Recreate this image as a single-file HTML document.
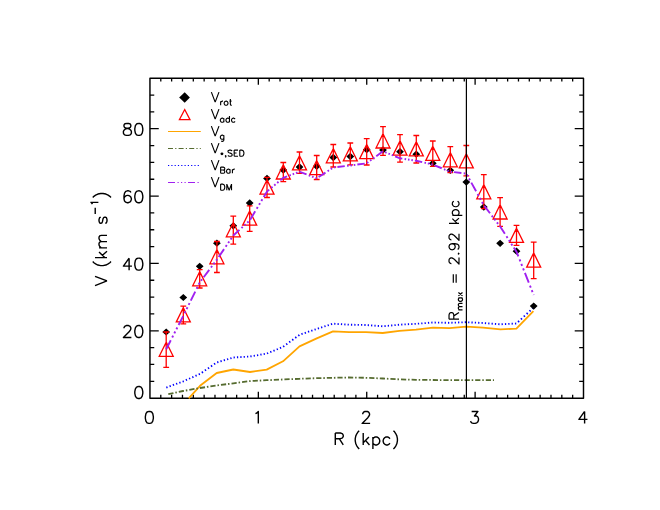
<!DOCTYPE html>
<html><head><meta charset="utf-8"><title>Rotation curve</title>
<style>html,body{margin:0;padding:0;background:#fff}svg{display:block}text{font-family:"Liberation Sans",sans-serif;fill:#000;fill-opacity:0}</style></head>
<body>
<svg width="660" height="510" viewBox="0 0 660 510">
<rect width="660" height="510" fill="#fff"/>
<path d="M160.79,398.15v-3.3M160.79,78.2v3.3M171.63,398.15v-3.3M171.63,78.2v3.3M182.47,398.15v-3.3M182.47,78.2v3.3M193.31,398.15v-3.3M193.31,78.2v3.3M204.14,398.15v-3.3M204.14,78.2v3.3M214.98,398.15v-3.3M214.98,78.2v3.3M225.82,398.15v-3.3M225.82,78.2v3.3M236.66,398.15v-3.3M236.66,78.2v3.3M247.50,398.15v-3.3M247.50,78.2v3.3M258.34,398.15v-6.5M258.34,78.2v6.5M269.18,398.15v-3.3M269.18,78.2v3.3M280.01,398.15v-3.3M280.01,78.2v3.3M290.85,398.15v-3.3M290.85,78.2v3.3M301.69,398.15v-3.3M301.69,78.2v3.3M312.53,398.15v-3.3M312.53,78.2v3.3M323.37,398.15v-3.3M323.37,78.2v3.3M334.21,398.15v-3.3M334.21,78.2v3.3M345.05,398.15v-3.3M345.05,78.2v3.3M355.89,398.15v-3.3M355.89,78.2v3.3M366.73,398.15v-6.5M366.73,78.2v6.5M377.56,398.15v-3.3M377.56,78.2v3.3M388.40,398.15v-3.3M388.40,78.2v3.3M399.24,398.15v-3.3M399.24,78.2v3.3M410.08,398.15v-3.3M410.08,78.2v3.3M420.92,398.15v-3.3M420.92,78.2v3.3M431.76,398.15v-3.3M431.76,78.2v3.3M442.60,398.15v-3.3M442.60,78.2v3.3M453.44,398.15v-3.3M453.44,78.2v3.3M464.27,398.15v-3.3M464.27,78.2v3.3M475.11,398.15v-6.5M475.11,78.2v6.5M485.95,398.15v-3.3M485.95,78.2v3.3M496.79,398.15v-3.3M496.79,78.2v3.3M507.63,398.15v-3.3M507.63,78.2v3.3M518.47,398.15v-3.3M518.47,78.2v3.3M529.31,398.15v-3.3M529.31,78.2v3.3M540.14,398.15v-3.3M540.14,78.2v3.3M550.98,398.15v-3.3M550.98,78.2v3.3M561.82,398.15v-3.3M561.82,78.2v3.3M572.66,398.15v-3.3M572.66,78.2v3.3M149.95,381.31h4.3M583.5,381.31h-4.3M149.95,364.47h4.3M583.5,364.47h-4.3M149.95,347.63h4.3M583.5,347.63h-4.3M149.95,330.79h8.8M583.5,330.79h-8.8M149.95,313.95h4.3M583.5,313.95h-4.3M149.95,297.11h4.3M583.5,297.11h-4.3M149.95,280.27h4.3M583.5,280.27h-4.3M149.95,263.43h8.8M583.5,263.43h-8.8M149.95,246.59h4.3M583.5,246.59h-4.3M149.95,229.76h4.3M583.5,229.76h-4.3M149.95,212.92h4.3M583.5,212.92h-4.3M149.95,196.08h8.8M583.5,196.08h-8.8M149.95,179.24h4.3M583.5,179.24h-4.3M149.95,162.40h4.3M583.5,162.40h-4.3M149.95,145.56h4.3M583.5,145.56h-4.3M149.95,128.72h8.8M583.5,128.72h-8.8M149.95,111.88h4.3M583.5,111.88h-4.3M149.95,95.04h4.3M583.5,95.04h-4.3" stroke="#000" stroke-width="1.3" fill="none"/>
<rect x="149.95" y="78.2" width="433.55" height="319.95" fill="none" stroke="#000" stroke-width="1.45" stroke-linejoin="round"/>
<polyline points="188.7,398.3 200.0,385.8 216.7,373.0 233.3,369.5 250.0,372.0 266.7,369.6 283.0,361.3 299.5,346.4 316.2,338.6 333.0,331.4 349.2,332.2 366.0,332.2 382.7,333.0 399.4,330.9 416.0,329.6 433.0,327.6 449.5,328.1 466.2,326.6 483.0,327.6 500.5,329.4 516.4,328.6 533.4,311.1" fill="none" stroke="#FFA500" stroke-width="1.8" stroke-linejoin="round"/>
<path d="M168.30,394.20L173.45,393.08M175.33,392.67L176.82,392.35M178.80,391.92L183.00,391.00L183.95,390.83M185.83,390.50L187.33,390.24M189.31,389.89L194.48,388.97M196.37,388.64L197.86,388.38M199.84,388.03L200.00,388.00L205.02,387.25M206.91,386.97L208.40,386.74M210.39,386.44L215.57,385.67M217.46,385.40L218.95,385.20M220.95,384.94L226.13,384.25M228.02,384.00L229.52,383.80M231.51,383.54L233.30,383.30L236.69,382.85M238.58,382.60L240.08,382.41M242.07,382.14L247.25,381.46M249.14,381.21L250.00,381.10L250.64,381.07M252.64,380.96L257.84,380.68M259.73,380.58L261.23,380.49M263.23,380.39L266.70,380.20L268.43,380.13M270.33,380.04L271.83,379.98M273.83,379.89L279.03,379.67M280.92,379.59L282.42,379.52M284.42,379.44L289.62,379.22M291.52,379.14L293.02,379.07M295.02,378.99L299.50,378.80L300.22,378.77M302.12,378.70L303.62,378.65M305.62,378.58L310.81,378.39M312.71,378.32L314.21,378.26M316.21,378.19L321.41,378.07M323.31,378.03L324.81,377.99M326.81,377.95L332.01,377.82M333.91,377.78L335.41,377.75M337.41,377.72L342.61,377.62M344.51,377.58L346.01,377.56M348.01,377.52L349.00,377.50L353.21,377.57M355.11,377.61L356.61,377.63M358.61,377.67L363.81,377.76M365.71,377.79L366.00,377.80L367.21,377.85M369.21,377.93L374.41,378.15M376.31,378.22L377.80,378.29M379.80,378.37L383.00,378.50L385.00,378.61M386.90,378.71L388.40,378.79M390.40,378.89L395.60,379.17M397.49,379.27L398.99,379.35M400.99,379.42L406.19,379.55M408.09,379.60L409.59,379.64M411.59,379.69L416.00,379.80L416.79,379.81M418.69,379.83L420.19,379.85M422.19,379.87L427.39,379.93M429.29,379.96L430.79,379.97M432.79,380.00L433.00,380.00L437.99,380.03M439.89,380.04L441.39,380.05M443.39,380.06L448.59,380.09M450.49,380.10L451.99,380.11M453.99,380.12L459.19,380.16M461.09,380.17L462.59,380.18M464.59,380.19L466.00,380.20L469.79,380.20M471.69,380.20L473.19,380.20M475.19,380.20L480.39,380.20M482.29,380.20L483.00,380.20L483.79,380.20M485.79,380.20L490.99,380.20M492.89,380.20L494.00,380.20" fill="none" stroke="#556B2F" stroke-width="1.8"/>
<path d="M166.30,387.60L167.52,387.15M169.56,386.39L170.77,385.94M172.81,385.19L174.03,384.74M176.07,383.98L177.29,383.53M179.33,382.77L180.54,382.32M182.58,381.57L183.30,381.30L183.79,381.08M185.81,380.19L187.01,379.65M189.03,378.76L190.23,378.23M192.25,377.33L193.45,376.80M195.47,375.91L196.67,375.38M198.69,374.48L199.89,373.95M201.81,372.66L202.96,371.88M204.88,370.57L206.02,369.79M207.94,368.48L209.08,367.70M211.00,366.39L212.14,365.61M214.06,364.30L215.21,363.52M217.16,362.36L218.38,361.99M220.44,361.37L221.67,361.00M223.73,360.38L224.96,360.01M227.02,359.39L228.25,359.02M230.31,358.40L231.53,358.03M233.60,357.48L234.85,357.41M236.95,357.28L238.20,357.21M240.29,357.08L241.54,357.01M243.64,356.88L244.89,356.81M246.99,356.68L248.24,356.61M250.33,356.44L251.58,356.23M253.66,355.86L254.91,355.65M256.99,355.29L258.23,355.07M260.32,354.71L261.56,354.49M263.65,354.13L264.89,353.91M266.97,353.49L268.18,352.99M270.21,352.16L271.42,351.66M273.44,350.83L274.65,350.33M276.68,349.50L277.89,349.00M279.92,348.17L281.12,347.67M283.14,346.79L284.27,345.97M286.17,344.58L287.30,343.75M289.19,342.36L290.32,341.53M292.22,340.14L293.34,339.31M295.24,337.92L296.37,337.10M298.26,335.71L299.39,334.88M301.43,334.14L302.65,333.72M304.70,333.02L305.92,332.61M307.97,331.91L309.19,331.49M311.24,330.79L312.47,330.37M314.52,329.67L315.74,329.26M317.79,328.59L319.01,328.20M321.07,327.53L322.29,327.14M324.35,326.48L325.57,326.09M327.63,325.43L328.85,325.03M330.91,324.37L332.13,323.98M334.21,323.77L335.46,323.85M337.56,323.98L338.81,324.06M340.91,324.19L342.15,324.27M344.25,324.39L345.50,324.47M347.60,324.60L348.85,324.68M350.95,324.73L352.20,324.75M354.30,324.79L355.55,324.81M357.65,324.85L358.90,324.87M361.00,324.91L362.25,324.93M364.35,324.97L365.60,324.99M367.70,325.13L368.94,325.23M371.04,325.39L372.29,325.49M374.39,325.65L375.64,325.75M377.73,325.91L378.98,326.01M381.08,326.17L382.33,326.27M384.42,326.13L385.67,326.02M387.77,325.81L389.01,325.70M391.11,325.49L392.36,325.37M394.45,325.17L395.70,325.05M397.80,324.85L399.04,324.73M401.14,324.61L402.39,324.54M404.49,324.42L405.74,324.36M407.84,324.24L409.09,324.17M411.19,324.06L412.44,323.99M414.53,323.88L415.78,323.81M417.88,323.66L419.13,323.56M421.23,323.40L422.48,323.30M424.57,323.14L425.82,323.05M427.92,322.89L429.17,322.79M431.26,322.63L432.51,322.54M434.61,322.53L435.86,322.55M437.96,322.59L439.21,322.61M441.31,322.65L442.56,322.67M444.66,322.71L445.91,322.73M448.01,322.77L449.26,322.80M451.36,322.73L452.61,322.69M454.71,322.61L455.96,322.57M458.06,322.49L459.31,322.44M461.41,322.37L462.66,322.32M464.76,322.25L466.00,322.20L466.01,322.20M468.11,322.30L469.36,322.36M471.45,322.46L472.70,322.52M474.80,322.61L476.05,322.67M478.15,322.77L479.40,322.83M481.50,322.93L482.75,322.99M484.85,323.14L486.10,323.23M488.19,323.39L489.44,323.48M491.54,323.63L492.79,323.73M494.88,323.88L496.13,323.98M498.23,324.13L499.48,324.22M501.58,324.25L502.83,324.18M504.93,324.08L506.18,324.01M508.27,323.91L509.52,323.85M511.62,323.74L512.87,323.68M514.97,323.57L516.22,323.51M518.04,321.97L519.11,320.98M520.91,319.31L521.98,318.31M523.78,316.64L524.85,315.64M526.64,313.97L527.71,312.98M529.51,311.30L530.58,310.31M532.38,308.64L533.45,307.64" fill="none" stroke="#0000FF" stroke-width="1.85"/>
<path d="M162.3,332.0L166.2,328.4L170.1,332.0L166.2,335.6ZM179.4,297.5L183.3,293.9L187.2,297.5L183.3,301.1ZM195.8,266.3L199.7,262.7L203.6,266.3L199.7,269.9ZM213.0,243.2L216.9,239.5L220.8,243.2L216.9,246.8ZM229.4,225.8L233.3,222.2L237.2,225.8L233.3,229.5ZM245.8,203.0L249.7,199.3L253.6,203.0L249.7,206.7ZM263.1,178.4L267.0,174.8L270.9,178.4L267.0,182.1ZM279.4,170.0L283.3,166.3L287.2,170.0L283.3,173.7ZM295.6,167.0L299.5,163.3L303.4,167.0L299.5,170.7ZM312.8,166.3L316.7,162.7L320.6,166.3L316.7,170.0ZM329.4,157.5L333.3,153.8L337.2,157.5L333.3,161.2ZM346.4,156.5L350.3,152.8L354.2,156.5L350.3,160.2ZM362.8,149.7L366.7,146.0L370.6,149.7L366.7,153.3ZM379.1,150.0L383.0,146.3L386.9,150.0L383.0,153.7ZM396.1,151.7L400.0,148.0L403.9,151.7L400.0,155.3ZM412.4,154.2L416.3,150.5L420.2,154.2L416.3,157.8ZM428.9,163.3L432.8,159.7L436.7,163.3L432.8,167.0ZM446.4,170.3L450.3,166.7L454.2,170.3L450.3,174.0ZM462.4,182.1L466.3,178.4L470.2,182.1L466.3,185.8ZM479.9,207.0L483.8,203.3L487.7,207.0L483.8,210.7ZM496.2,243.3L500.1,239.7L504.0,243.3L500.1,247.0ZM512.6,251.2L516.5,247.5L520.4,251.2L516.5,254.8ZM529.8,306.1L533.7,302.5L537.6,306.1L533.7,309.8Z" fill="#000"/>
<path d="M166.2,342.1L173.2,356.3L159.2,356.3ZM166.2,332.0V367.3M163.3,332.0h5.8M163.3,367.3h5.8M183.3,307.7L190.3,321.9L176.3,321.9ZM183.3,306.2V323.8M180.4,306.2h5.8M180.4,323.8h5.8M199.7,271.6L206.7,285.8L192.7,285.8ZM199.7,269.7V288.0M196.8,269.7h5.8M196.8,288.0h5.8M216.9,249.6L223.9,263.8L209.9,263.8ZM216.9,241.5V272.5M214.0,241.5h5.8M214.0,272.5h5.8M233.3,222.6L240.3,236.8L226.3,236.8ZM233.3,216.2V244.2M230.4,216.2h5.8M230.4,244.2h5.8M249.7,211.0L256.7,225.2L242.7,225.2ZM249.7,205.8V231.3M246.8,205.8h5.8M246.8,231.3h5.8M267.0,179.9L274.0,194.1L260.0,194.1ZM267.0,177.3V197.5M264.1,177.3h5.8M264.1,197.5h5.8M283.3,164.8L290.3,179.0L276.3,179.0ZM283.3,162.5V181.7M280.4,162.5h5.8M280.4,181.7h5.8M299.5,155.7L306.5,169.9L292.5,169.9ZM299.5,152.0V173.3M296.6,152.0h5.8M296.6,173.3h5.8M316.7,160.5L323.7,174.7L309.7,174.7ZM316.7,155.5V179.5M313.8,155.5h5.8M313.8,179.5h5.8M333.3,148.6L340.3,162.8L326.3,162.8ZM333.3,144.5V167.0M330.4,144.5h5.8M330.4,167.0h5.8M350.3,146.7L357.3,160.9L343.3,160.9ZM350.3,143.0V164.8M347.4,143.0h5.8M347.4,164.8h5.8M366.7,144.4L373.7,158.6L359.7,158.6ZM366.7,138.7V165.0M363.8,138.7h5.8M363.8,165.0h5.8M383.0,133.8L390.0,148.0L376.0,148.0ZM383.0,126.7V155.3M380.1,126.7h5.8M380.1,155.3h5.8M400.0,140.9L407.0,155.1L393.0,155.1ZM400.0,134.7V162.2M397.1,134.7h5.8M397.1,162.2h5.8M416.3,141.7L423.3,155.9L409.3,155.9ZM416.3,135.5V163.0M413.4,135.5h5.8M413.4,163.0h5.8M432.8,146.2L439.8,160.4L425.8,160.4ZM432.8,141.0V166.3M429.9,141.0h5.8M429.9,166.3h5.8M450.3,152.6L457.3,166.8L443.3,166.8ZM450.3,146.7V172.6M447.4,146.7h5.8M447.4,172.6h5.8M466.3,153.7L473.3,167.9L459.3,167.9ZM466.3,145.5V175.8M463.4,145.5h5.8M463.4,175.8h5.8M483.8,184.6L490.8,198.8L476.8,198.8ZM483.8,174.6V208.7M480.9,174.6h5.8M480.9,208.7h5.8M500.1,204.8L507.1,219.0L493.1,219.0ZM500.1,197.7V226.3M497.2,197.7h5.8M497.2,226.3h5.8M516.5,228.2L523.5,242.4L509.5,242.4ZM516.5,225.3V245.3M513.6,225.3h5.8M513.6,245.3h5.8M533.7,252.9L540.7,267.1L526.7,267.1ZM533.7,242.2V278.7M530.8,242.2h5.8M530.8,278.7h5.8" fill="none" stroke="#FF0000" stroke-width="1.3" stroke-linejoin="miter"/>
<path d="M166.20,349.20L170.78,340.26M172.20,337.48L173.13,335.66M174.31,333.37L175.23,331.55M176.41,329.26L177.34,327.45M178.58,325.03L183.15,316.08M184.55,313.27L185.45,311.43M186.60,309.10L187.51,307.26M188.65,304.93L189.56,303.09M190.77,300.64L195.24,291.56M196.62,288.74L197.53,286.90M198.68,284.57L199.58,282.74M200.99,280.78L202.13,279.27M203.64,277.26L209.23,269.81M210.97,267.49L212.11,265.98M213.54,264.07L214.68,262.56M216.11,260.65L217.20,259.20L217.25,259.13M218.69,257.00L224.04,249.13M225.70,246.69L226.78,245.09M228.16,243.07L229.24,241.48M230.61,239.45L231.70,237.86M233.14,235.73L233.30,235.50L239.47,229.85M241.45,228.05L242.74,226.87M244.37,225.37L245.66,224.19M247.30,222.70L248.58,221.52M250.17,219.70L255.18,211.32M256.73,208.71L257.75,207.01M259.03,204.86L260.05,203.16M261.33,201.00L262.35,199.30M263.70,197.03L267.00,191.50L269.21,189.64M271.23,187.95L272.54,186.84M274.21,185.44L275.53,184.33M277.19,182.93L278.51,181.83M280.27,180.35L283.30,177.80L287.13,176.36M289.36,175.52L290.82,174.97M292.67,174.27L294.12,173.72M295.97,173.03L297.43,172.48M299.37,171.75L299.50,171.70L306.55,174.40M308.78,175.26L310.24,175.82M312.08,176.53L313.53,177.09M315.38,177.79L316.70,178.30L316.83,178.22M318.67,177.02L325.48,172.58M327.60,171.21L328.98,170.31M330.73,169.17L332.12,168.27M333.91,167.43L335.41,167.25M337.40,167.02L344.78,166.15M347.07,165.88L348.57,165.70M350.46,165.48L351.96,165.28M353.85,165.02L355.35,164.82M357.34,164.56L364.71,163.57M366.97,163.10L368.33,162.10M370.04,160.84L371.39,159.85M373.11,158.58L374.46,157.59M376.26,156.26L382.94,151.34M385.16,152.19L386.61,152.78M388.44,153.54L389.89,154.14M391.73,154.89L393.17,155.49M395.11,156.28L400.00,158.30L402.32,158.66M404.61,159.01L406.10,159.24M407.99,159.53L409.49,159.76M411.38,160.05L412.87,160.27M414.86,160.58L416.30,160.80L422.19,162.12M424.47,162.63L425.95,162.96M427.83,163.39L429.32,163.72M431.20,164.14L432.68,164.47M434.61,165.26L441.75,168.25M443.97,169.18L445.42,169.78M447.25,170.55L448.70,171.16M450.55,171.76L452.05,171.94M454.04,172.17L461.42,173.03M463.71,173.30L465.21,173.47M466.82,174.55L467.80,176.30M469.03,178.53L470.00,180.28M471.30,182.63L476.10,191.29M477.59,193.98L478.56,195.74M479.79,197.97L480.77,199.72M482.00,201.95L482.97,203.70M484.35,205.92L490.00,213.27M491.75,215.56L492.90,217.05M494.35,218.94L495.49,220.43M496.94,222.32L498.09,223.81M499.62,225.80L500.00,226.30L504.86,233.83M506.48,236.34L507.54,237.97M508.88,240.05L509.94,241.68M511.28,243.76L512.33,245.39M513.74,247.58L516.60,252.00L518.35,256.39M519.55,259.41L520.33,261.38M521.32,263.87L522.10,265.84M523.10,268.33L523.88,270.30M524.92,272.93L528.78,282.64M529.98,285.66L530.77,287.63M531.76,290.12L532.54,292.09M533.53,294.58L533.70,295.00" fill="none" stroke="#A020F0" stroke-width="1.9"/>
<line x1="466.4" y1="78.2" x2="466.4" y2="398.15" stroke="#000" stroke-width="1.2"/>
<g fill="none" stroke="#000" stroke-width="1.4" stroke-linejoin="round" stroke-linecap="butt"><path transform="translate(144.50,337.49) translate(-22.80,0)" d="M2.28,-9.12L2.28,-9.69L2.85,-10.83L3.42,-11.40L4.56,-11.97L6.84,-11.97L7.98,-11.40L8.55,-10.83L9.12,-9.69L9.12,-8.55L8.55,-7.41L7.41,-5.70L1.71,0.00L9.69,0.00M16.53,-11.97L14.82,-11.40L13.68,-9.69L13.11,-6.84L13.11,-5.13L13.68,-2.28L14.82,-0.57L16.53,0.00L17.67,0.00L19.38,-0.57L20.52,-2.28L21.09,-5.13L21.09,-6.84L20.52,-9.69L19.38,-11.40L17.67,-11.97L16.53,-11.97"/><path transform="translate(144.50,270.13) translate(-22.80,0)" d="M7.41,-11.97L1.71,-3.99L10.26,-3.99M7.41,-11.97L7.41,0.00M16.53,-11.97L14.82,-11.40L13.68,-9.69L13.11,-6.84L13.11,-5.13L13.68,-2.28L14.82,-0.57L16.53,0.00L17.67,0.00L19.38,-0.57L20.52,-2.28L21.09,-5.13L21.09,-6.84L20.52,-9.69L19.38,-11.40L17.67,-11.97L16.53,-11.97"/><path transform="translate(144.50,202.78) translate(-22.80,0)" d="M9.12,-10.26L8.55,-11.40L6.84,-11.97L5.70,-11.97L3.99,-11.40L2.85,-9.69L2.28,-6.84L2.28,-3.99L2.85,-1.71L3.99,-0.57L5.70,0.00L6.27,0.00L7.98,-0.57L9.12,-1.71L9.69,-3.42L9.69,-3.99L9.12,-5.70L7.98,-6.84L6.27,-7.41L5.70,-7.41L3.99,-6.84L2.85,-5.70L2.28,-3.99M16.53,-11.97L14.82,-11.40L13.68,-9.69L13.11,-6.84L13.11,-5.13L13.68,-2.28L14.82,-0.57L16.53,0.00L17.67,0.00L19.38,-0.57L20.52,-2.28L21.09,-5.13L21.09,-6.84L20.52,-9.69L19.38,-11.40L17.67,-11.97L16.53,-11.97"/><path transform="translate(144.50,135.42) translate(-22.80,0)" d="M4.56,-11.97L2.85,-11.40L2.28,-10.26L2.28,-9.12L2.85,-7.98L3.99,-7.41L6.27,-6.84L7.98,-6.27L9.12,-5.13L9.69,-3.99L9.69,-2.28L9.12,-1.14L8.55,-0.57L6.84,0.00L4.56,0.00L2.85,-0.57L2.28,-1.14L1.71,-2.28L1.71,-3.99L2.28,-5.13L3.42,-6.27L5.13,-6.84L7.41,-7.41L8.55,-7.98L9.12,-9.12L9.12,-10.26L8.55,-11.40L6.84,-11.97L4.56,-11.97M16.53,-11.97L14.82,-11.40L13.68,-9.69L13.11,-6.84L13.11,-5.13L13.68,-2.28L14.82,-0.57L16.53,0.00L17.67,0.00L19.38,-0.57L20.52,-2.28L21.09,-5.13L21.09,-6.84L20.52,-9.69L19.38,-11.40L17.67,-11.97L16.53,-11.97"/><path transform="translate(144.50,398.50) translate(-11.40,0)" d="M5.13,-11.97L3.42,-11.40L2.28,-9.69L1.71,-6.84L1.71,-5.13L2.28,-2.28L3.42,-0.57L5.13,0.00L6.27,0.00L7.98,-0.57L9.12,-2.28L9.69,-5.13L9.69,-6.84L9.12,-9.69L7.98,-11.40L6.27,-11.97L5.13,-11.97"/><path transform="translate(149.35,423.40) translate(-5.70,0)" d="M5.13,-11.97L3.42,-11.40L2.28,-9.69L1.71,-6.84L1.71,-5.13L2.28,-2.28L3.42,-0.57L5.13,0.00L6.27,0.00L7.98,-0.57L9.12,-2.28L9.69,-5.13L9.69,-6.84L9.12,-9.69L7.98,-11.40L6.27,-11.97L5.13,-11.97"/><path transform="translate(257.74,423.40) translate(-5.70,0)" d="M3.42,-9.69L4.56,-10.26L6.27,-11.97L6.27,0.00"/><path transform="translate(366.12,423.40) translate(-5.70,0)" d="M2.28,-9.12L2.28,-9.69L2.85,-10.83L3.42,-11.40L4.56,-11.97L6.84,-11.97L7.98,-11.40L8.55,-10.83L9.12,-9.69L9.12,-8.55L8.55,-7.41L7.41,-5.70L1.71,0.00L9.69,0.00"/><path transform="translate(474.51,423.40) translate(-5.70,0)" d="M2.85,-11.97L9.12,-11.97L5.70,-7.41L7.41,-7.41L8.55,-6.84L9.12,-6.27L9.69,-4.56L9.69,-3.42L9.12,-1.71L7.98,-0.57L6.27,0.00L4.56,0.00L2.85,-0.57L2.28,-1.14L1.71,-2.28"/><path transform="translate(582.90,423.40) translate(-5.70,0)" d="M7.41,-11.97L1.71,-3.99L10.26,-3.99M7.41,-11.97L7.41,0.00"/><path transform="translate(333.00,444.95)" d="M2.28,-11.97L2.28,0.00M2.28,-11.97L7.41,-11.97L9.12,-11.40L9.69,-10.83L10.26,-9.69L10.26,-8.55L9.69,-7.41L9.12,-6.84L7.41,-6.27L2.28,-6.27M6.27,-6.27L10.26,0.00M26.22,-14.25L25.08,-13.11L23.94,-11.40L22.80,-9.12L22.23,-6.27L22.23,-3.99L22.80,-1.14L23.94,1.14L25.08,2.85L26.22,3.99M30.21,-11.97L30.21,0.00M35.91,-7.98L30.21,-2.28M32.49,-4.56L36.48,0.00M39.90,-7.98L39.90,3.99M39.90,-6.27L41.04,-7.41L42.18,-7.98L43.89,-7.98L45.03,-7.41L46.17,-6.27L46.74,-4.56L46.74,-3.42L46.17,-1.71L45.03,-0.57L43.89,0.00L42.18,0.00L41.04,-0.57L39.90,-1.71M57.00,-6.27L55.86,-7.41L54.72,-7.98L53.01,-7.98L51.87,-7.41L50.73,-6.27L50.16,-4.56L50.16,-3.42L50.73,-1.71L51.87,-0.57L53.01,0.00L54.72,0.00L55.86,-0.57L57.00,-1.71M60.42,-14.25L61.56,-13.11L62.70,-11.40L63.84,-9.12L64.41,-6.27L64.41,-3.99L63.84,-1.14L62.70,1.14L61.56,2.85L60.42,3.99"/><path transform="translate(107.00,286.10) rotate(-90)" d="M0.57,-11.97L5.13,0.00M9.69,-11.97L5.13,0.00M24.51,-14.25L23.37,-13.11L22.23,-11.40L21.09,-9.12L20.52,-6.27L20.52,-3.99L21.09,-1.14L22.23,1.14L23.37,2.85L24.51,3.99M28.50,-11.97L28.50,0.00M34.20,-7.98L28.50,-2.28M30.78,-4.56L34.77,0.00M38.19,-7.98L38.19,0.00M38.19,-5.70L39.90,-7.41L41.04,-7.98L42.75,-7.98L43.89,-7.41L44.46,-5.70L44.46,0.00M44.46,-5.70L46.17,-7.41L47.31,-7.98L49.02,-7.98L50.16,-7.41L50.73,-5.70L50.73,0.00M68.97,-6.27L68.40,-7.41L66.69,-7.98L64.98,-7.98L63.27,-7.41L62.70,-6.27L63.27,-5.13L64.41,-4.56L67.26,-3.99L68.40,-3.42L68.97,-2.28L68.97,-1.71L68.40,-0.57L66.69,0.00L64.98,0.00L63.27,-0.57L62.70,-1.71M72.09,-11.78L78.45,-11.78M81.99,-14.61L82.70,-14.96L83.76,-16.02L83.76,-8.60M88.65,-14.25L89.79,-13.11L90.93,-11.40L92.07,-9.12L92.64,-6.27L92.64,-3.99L92.07,-1.14L90.93,1.14L89.79,2.85L88.65,3.99"/><path transform="translate(459.00,321.10) rotate(-90)" stroke-width="1.2" d="M1.90,-9.97L1.90,0.00M1.90,-9.97L6.17,-9.97L7.60,-9.50L8.07,-9.03L8.55,-8.07L8.55,-7.12L8.07,-6.17L7.60,-5.70L6.17,-5.22L1.90,-5.22M5.22,-5.22L8.55,0.00M11.15,-0.62L11.15,3.50M11.15,0.56L12.04,-0.33L12.63,-0.62L13.51,-0.62L14.10,-0.33L14.39,0.56L14.39,3.50M14.39,0.56L15.28,-0.33L15.86,-0.62L16.75,-0.62L17.34,-0.33L17.63,0.56L17.63,3.50M23.23,-0.62L23.23,3.50M23.23,0.26L22.64,-0.33L22.05,-0.62L21.17,-0.62L20.58,-0.33L19.99,0.26L19.69,1.14L19.69,1.73L19.99,2.62L20.58,3.21L21.17,3.50L22.05,3.50L22.64,3.21L23.23,2.62M25.29,-0.62L28.53,3.50M28.53,-0.62L25.29,3.50M38.25,-5.70L46.80,-5.70M38.25,-2.85L46.80,-2.85M57.53,-7.60L57.53,-8.07L58.01,-9.03L58.48,-9.50L59.43,-9.97L61.33,-9.97L62.28,-9.50L62.76,-9.03L63.23,-8.07L63.23,-7.12L62.76,-6.17L61.81,-4.75L57.06,0.00L63.71,0.00M67.51,-0.95L67.03,-0.47L67.51,0.00L67.98,-0.47L67.51,-0.95M77.48,-6.65L77.01,-5.22L76.06,-4.27L74.63,-3.80L74.16,-3.80L72.73,-4.27L71.78,-5.22L71.31,-6.65L71.31,-7.12L71.78,-8.55L72.73,-9.50L74.16,-9.97L74.63,-9.97L76.06,-9.50L77.01,-8.55L77.48,-6.65L77.48,-4.27L77.01,-1.90L76.06,-0.47L74.63,0.00L73.68,0.00L72.26,-0.47L71.78,-1.42M81.28,-7.60L81.28,-8.07L81.76,-9.03L82.23,-9.50L83.18,-9.97L85.08,-9.97L86.03,-9.50L86.51,-9.03L86.98,-8.07L86.98,-7.12L86.51,-6.17L85.56,-4.75L80.81,0.00L87.46,0.00M97.72,-9.97L97.72,0.00M102.47,-6.65L97.72,-1.90M99.62,-3.80L102.94,0.00M105.79,-6.65L105.79,3.32M105.79,-5.22L106.74,-6.17L107.69,-6.65L109.12,-6.65L110.07,-6.17L111.02,-5.22L111.49,-3.80L111.49,-2.85L111.02,-1.42L110.07,-0.47L109.12,0.00L107.69,0.00L106.74,-0.47L105.79,-1.42M120.04,-5.22L119.09,-6.17L118.14,-6.65L116.72,-6.65L115.77,-6.17L114.82,-5.22L114.34,-3.80L114.34,-2.85L114.82,-1.42L115.77,-0.47L116.72,0.00L118.14,0.00L119.09,-0.47L120.04,-1.42"/><path transform="translate(210.90,102.10)" stroke-width="1.15" d="M0.47,-9.97L4.27,0.00M8.07,-9.97L4.27,0.00"/><path transform="translate(219.45,105.30)" stroke-width="1.12" d="M1.18,-4.12L1.18,0.00M1.18,-2.36L1.47,-3.24L2.06,-3.83L2.65,-4.12L3.53,-4.12M6.18,-4.12L5.60,-3.83L5.01,-3.24L4.71,-2.36L4.71,-1.77L5.01,-0.88L5.60,-0.29L6.18,0.00L7.07,0.00L7.66,-0.29L8.25,-0.88L8.54,-1.77L8.54,-2.36L8.25,-3.24L7.66,-3.83L7.07,-4.12L6.18,-4.12M10.90,-6.18L10.90,-1.18L11.19,-0.29L11.78,0.00L12.37,0.00M10.01,-4.12L12.07,-4.12"/><path transform="translate(210.90,119.10)" stroke-width="1.15" d="M0.47,-9.97L4.27,0.00M8.07,-9.97L4.27,0.00"/><path transform="translate(219.45,122.30)" stroke-width="1.12" d="M4.42,-4.12L4.42,0.00M4.42,-3.24L3.83,-3.83L3.24,-4.12L2.36,-4.12L1.77,-3.83L1.18,-3.24L0.88,-2.36L0.88,-1.77L1.18,-0.88L1.77,-0.29L2.36,0.00L3.24,0.00L3.83,-0.29L4.42,-0.88M10.01,-6.18L10.01,0.00M10.01,-3.24L9.42,-3.83L8.83,-4.12L7.95,-4.12L7.36,-3.83L6.77,-3.24L6.48,-2.36L6.48,-1.77L6.77,-0.88L7.36,-0.29L7.95,0.00L8.83,0.00L9.42,-0.29L10.01,-0.88M15.61,-3.24L15.02,-3.83L14.43,-4.12L13.55,-4.12L12.96,-3.83L12.37,-3.24L12.07,-2.36L12.07,-1.77L12.37,-0.88L12.96,-0.29L13.55,0.00L14.43,0.00L15.02,-0.29L15.61,-0.88"/><path transform="translate(210.90,136.10)" stroke-width="1.15" d="M0.47,-9.97L4.27,0.00M8.07,-9.97L4.27,0.00"/><path transform="translate(219.45,139.30)" stroke-width="1.12" d="M4.42,-4.12L4.42,0.59L4.12,1.47L3.83,1.77L3.24,2.06L2.36,2.06L1.77,1.77M4.42,-3.24L3.83,-3.83L3.24,-4.12L2.36,-4.12L1.77,-3.83L1.18,-3.24L0.88,-2.36L0.88,-1.77L1.18,-0.88L1.77,-0.29L2.36,0.00L3.24,0.00L3.83,-0.29L4.42,-0.88"/><path transform="translate(210.90,153.10)" stroke-width="1.15" d="M0.47,-9.97L4.27,0.00M8.07,-9.97L4.27,0.00"/><path transform="translate(224.16,156.30)" stroke-width="1.12" d="M1.77,-0.29L1.47,0.00L1.18,-0.29L1.47,-0.59L1.77,-0.29L1.77,0.29L1.47,0.88L1.18,1.18M7.95,-5.30L7.36,-5.89L6.48,-6.18L5.30,-6.18L4.42,-5.89L3.83,-5.30L3.83,-4.71L4.12,-4.12L4.42,-3.83L5.01,-3.53L6.77,-2.94L7.36,-2.65L7.66,-2.36L7.95,-1.77L7.95,-0.88L7.36,-0.29L6.48,0.00L5.30,0.00L4.42,-0.29L3.83,-0.88M10.01,-6.18L10.01,0.00M10.01,-6.18L13.84,-6.18M10.01,-3.24L12.37,-3.24M10.01,0.00L13.84,0.00M15.61,-6.18L15.61,0.00M15.61,-6.18L17.67,-6.18L18.55,-5.89L19.14,-5.30L19.44,-4.71L19.73,-3.83L19.73,-2.36L19.44,-1.47L19.14,-0.88L18.55,-0.29L17.67,0.00L15.61,0.00"/><path transform="translate(210.90,170.10)" stroke-width="1.15" d="M0.47,-9.97L4.27,0.00M8.07,-9.97L4.27,0.00"/><path transform="translate(219.45,173.30)" stroke-width="1.12" d="M1.18,-6.18L1.18,0.00M1.18,-6.18L3.83,-6.18L4.71,-5.89L5.01,-5.60L5.30,-5.01L5.30,-4.42L5.01,-3.83L4.71,-3.53L3.83,-3.24M1.18,-3.24L3.83,-3.24L4.71,-2.94L5.01,-2.65L5.30,-2.06L5.30,-1.18L5.01,-0.59L4.71,-0.29L3.83,0.00L1.18,0.00M10.60,-4.12L10.60,0.00M10.60,-3.24L10.01,-3.83L9.42,-4.12L8.54,-4.12L7.95,-3.83L7.36,-3.24L7.07,-2.36L7.07,-1.77L7.36,-0.88L7.95,-0.29L8.54,0.00L9.42,0.00L10.01,-0.29L10.60,-0.88M12.96,-4.12L12.96,0.00M12.96,-2.36L13.25,-3.24L13.84,-3.83L14.43,-4.12L15.31,-4.12"/><path transform="translate(210.90,187.10)" stroke-width="1.15" d="M0.47,-9.97L4.27,0.00M8.07,-9.97L4.27,0.00"/><path transform="translate(219.45,190.30)" stroke-width="1.12" d="M1.18,-6.18L1.18,0.00M1.18,-6.18L3.24,-6.18L4.12,-5.89L4.71,-5.30L5.01,-4.71L5.30,-3.83L5.30,-2.36L5.01,-1.47L4.71,-0.88L4.12,-0.29L3.24,0.00L1.18,0.00M7.36,-6.18L7.36,0.00M7.36,-6.18L9.72,0.00M12.07,-6.18L9.72,0.00M12.07,-6.18L12.07,0.00"/></g>
<circle cx="221.95" cy="153.85" r="1.45" fill="#000"/>
<path d="M179.15,97.5L184.7,92.3L189.89999999999998,97.5L184.7,102.7Z" fill="#000"/>
<path d="M184.7,109.5L190.0,119.7L179.39999999999998,119.7Z" fill="none" stroke="#FF0000" stroke-width="1.25"/>
<line x1="168" x2="200.8" y1="131.5" y2="131.5" stroke="#FFA500" stroke-width="1.2"/>
<line x1="168" x2="200.8" y1="148.5" y2="148.5" stroke="#556B2F" stroke-width="1.2" stroke-dasharray="5 2.2 1.2 2.2"/>
<line x1="168" x2="199.5" y1="165.5" y2="165.5" stroke="#0000FF" stroke-width="1.2" stroke-dasharray="1.2 2.1"/>
<line x1="168" x2="199.5" y1="182.5" y2="182.5" stroke="#A020F0" stroke-width="1.2" stroke-dasharray="7 2.5 1.2 2.3 1.2 2.3 1.2 2.3"/>
<g font-size="14">
<text x="334" y="445">R (kpc)</text>
<text transform="translate(107,286) rotate(-90)">V (km s<tspan baseline-shift="super" font-size="9">−1</tspan>)</text>
<text transform="translate(459,321) rotate(-90)">R<tspan baseline-shift="sub" font-size="9">max</tspan> = 2.92 kpc</text>
<text x="144" y="403.1" text-anchor="end">0</text>
<text x="144" y="335.8" text-anchor="end">20</text>
<text x="144" y="268.4" text-anchor="end">40</text>
<text x="144" y="201.1" text-anchor="end">60</text>
<text x="144" y="133.7" text-anchor="end">80</text>
<text x="149.9" y="423" text-anchor="middle">0</text>
<text x="258.3" y="423" text-anchor="middle">1</text>
<text x="366.7" y="423" text-anchor="middle">2</text>
<text x="475.1" y="423" text-anchor="middle">3</text>
<text x="583.5" y="423" text-anchor="middle">4</text>
<text x="211" y="101.9" font-size="12">V<tspan baseline-shift="sub" font-size="8">rot</tspan></text>
<text x="211" y="118.9" font-size="12">V<tspan baseline-shift="sub" font-size="8">adc</tspan></text>
<text x="211" y="135.9" font-size="12">V<tspan baseline-shift="sub" font-size="8">g</tspan></text>
<text x="211" y="152.9" font-size="12">V<tspan baseline-shift="sub" font-size="8">⋆,SED</tspan></text>
<text x="211" y="169.9" font-size="12">V<tspan baseline-shift="sub" font-size="8">Bar</tspan></text>
<text x="211" y="186.9" font-size="12">V<tspan baseline-shift="sub" font-size="8">DM</tspan></text>
</g>
</svg></body></html>
